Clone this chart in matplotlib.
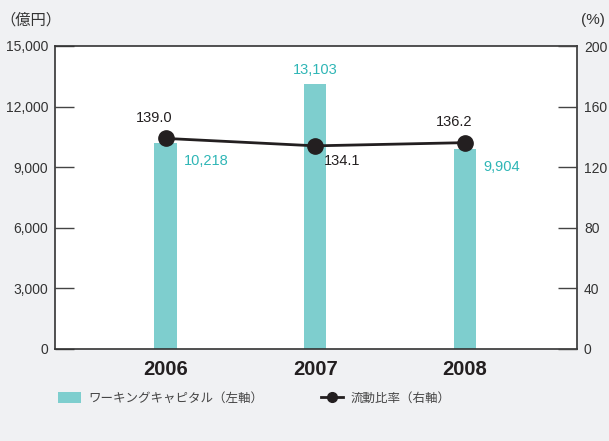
import matplotlib.pyplot as plt
from matplotlib.patches import Patch
from matplotlib.lines import Line2D

plt.rcParams['font.family'] = ['Liberation Sans', 'Noto Sans CJK JP', 'DejaVu Sans']

years = ['2006', '2007', '2008']
working_capital = [10218, 13103, 9904]
current_ratio = [139.0, 134.1, 136.2]
wc_labels = ['10,218', '13,103', '9,904']
ratio_labels = ['139.0', '134.1', '136.2']

bg = '#f0f1f3'
bar_color = '#7ecece'
label_teal = '#2fb6b6'
dark = '#231f20'

fig = plt.figure(figsize=(6.09, 4.41), dpi=100, facecolor=bg)
ax = fig.add_axes([55/609, 1-349/441, 522/609, 303/441])
ax.set_facecolor('white')
x = range(len(years))
ax.bar(x, working_capital, width=0.15, color=bar_color, zorder=1)
ax.set_xlim(-0.74, 2.75)
ax.set_ylim(0, 15000)
ax.set_yticks([0, 3000, 6000, 9000, 12000, 15000])
ax.set_yticklabels(['0', '3,000', '6,000', '9,000', '12,000', '15,000'])
ax.set_xticks(list(x))
ax.set_xticklabels(years, fontsize=14.5, fontweight='bold', color=dark)
ax.tick_params(axis='x', length=0, pad=8)
ax.tick_params(axis='y', direction='in', length=14, width=1, color='#444444',
               labelsize=10, labelcolor='#333333', pad=5)
for s in ax.spines.values():
    s.set_color('#333333')
    s.set_linewidth(1.2)

ax2 = ax.twinx()
ax2.set_ylim(0, 200)
ax2.set_yticks([0, 40, 80, 120, 160, 200])
ax2.tick_params(axis='y', direction='in', length=14, width=1, color='#444444',
                labelsize=10, labelcolor='#333333', pad=5)
ax2.plot(list(x), current_ratio, color=dark, lw=2, marker='o', markersize=11, zorder=3)
for s in ax2.spines.values():
    s.set_visible(False)

# bar labels
ax.annotate(wc_labels[0], (0, working_capital[0]), xytext=(13, -8), textcoords='offset points',
            ha='left', va='top', color=label_teal, fontsize=10.5)
ax.annotate(wc_labels[1], (1, working_capital[1]), xytext=(0, 5), textcoords='offset points',
            ha='center', va='bottom', color=label_teal, fontsize=10.5)
ax.annotate(wc_labels[2], (2, working_capital[2]), xytext=(13, -8), textcoords='offset points',
            ha='left', va='top', color=label_teal, fontsize=10.5)

# ratio labels
ax2.annotate(ratio_labels[0], (0, current_ratio[0]), xytext=(-8, 10), textcoords='offset points',
             ha='center', va='bottom', color=dark, fontsize=10.5)
ax2.annotate(ratio_labels[1], (1, current_ratio[1]), xytext=(6, -6), textcoords='offset points',
             ha='left', va='top', color=dark, fontsize=10.5)
ax2.annotate(ratio_labels[2], (2, current_ratio[2]), xytext=(-8, 10), textcoords='offset points',
             ha='center', va='bottom', color=dark, fontsize=10.5)

fig.text(0/609, 1-20/441, '（億円）', fontsize=11, color='#333333', va='center',
         family=['Noto Sans CJK JP', 'DejaVu Sans'])
fig.text(605/609, 1-20/441, '(%)', fontsize=11, color='#333333', va='center', ha='right')

handles = [Patch(facecolor=bar_color, edgecolor='none'),
           Line2D([0], [0], color=dark, lw=2, marker='o', markersize=7)]
leg = fig.legend(handles, ['ワーキングキャピタル（左軸）', '流動比率（右軸）'],
                 loc='center left', bbox_to_anchor=(58/609, 1-398/441), ncol=2, frameon=False,
                 borderpad=0, borderaxespad=0,
                 handlelength=1.8, handleheight=1.0, columnspacing=4.6, handletextpad=0.6,
                 prop={'family': ['Noto Sans CJK JP', 'DejaVu Sans'], 'size': 9})
for t in leg.get_texts():
    t.set_color('#444444')

fig.savefig('out.png', dpi=100, facecolor=bg)
